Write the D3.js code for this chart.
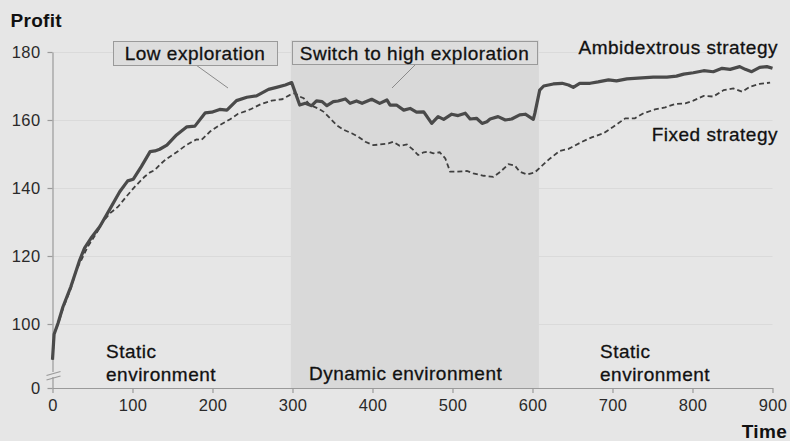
<!DOCTYPE html>
<html>
<head>
<meta charset="utf-8">
<script src="https://cdn.jsdelivr.net/npm/d3@7"></script>
<style>
  html, body { margin: 0; padding: 0; background: #e6e6e6; }
  svg { display: block; font-family: "Liberation Sans", Arial, Helvetica, sans-serif; }
</style>
</head>
<body>
<svg id="chart" width="790" height="441"></svg>
<script>
// Time steps and profit values for each strategy
const ambiTime   = [0,2,7,13,23,34,40,48,59,71,84,94,101,111,122,128,134,143,155,168,178,191,199,209,218,230,243,255,270,280,291,299,
                    309,316,324,330,337,343,351,357,366,372,380,387,399,409,418,422,430,439,447,455,464,466,474,482,489,499,507,516,522,530,537,543,547,557,566,574,584,591,601,603,
                    609,614,626,637,645,651,659,672,682,695,705,718,732,751,768,780,789,801,814,826,837,847,859,866,874,884,893,900];
const ambiProfit = [89.5,97,100.3,105,111,118.8,122.3,125.2,128.6,133.5,138.9,142.1,142.6,146.3,150.7,150.9,151.4,152.6,155.6,158,158.2,162.1,162.3,163.1,162.9,165.7,166.7,167.1,169,169.6,170.3,171,
                    164.4,164.9,164.2,165.6,165.4,164.2,165.4,165.6,166.2,164.9,165.6,164.9,166.1,164.9,165.9,164.4,164.4,162.9,163.4,162.3,162.4,161.7,159,161,160.2,161.7,161.3,162,160.3,160.5,159,159.5,160.3,161,160,160.3,161.5,161.7,160.2,162,
                    168.8,170,170.6,170.8,170.3,169.6,170.8,170.8,171.2,171.8,171.5,172.1,172.3,172.6,172.6,172.9,173.5,173.9,174.5,174.2,175.2,174.9,175.7,174.9,174.2,175.5,175.7,175.2];

const fixedTime   = [0,2,7,13,23,30,36,44,55,63,72,82,92,103,115,122,128,134,142,155,167,180,186,197,209,222,232,247,260,274,287,297,303,
                     309,314,322,332,339,347,355,364,374,382,391,401,409,420,426,434,443,451,457,464,470,476,484,491,497,505,518,526,539,551,559,570,578,584,593,603,
                     612,622,634,645,649,662,674,689,701,716,728,739,753,766,778,791,801,814,826,839,851,862,872,884,897];
const fixedProfit = [89.5,97,100,104.5,110.5,116,118.8,122.7,126.7,130.1,132.6,134.5,137.4,140.4,143.3,144.6,145.3,146.8,148.5,150.5,152.6,154.3,154.1,156.6,158.5,160.2,161.8,163.1,164.6,165.7,166.1,167.4,167.9,
                     166.9,166.4,164.4,163.4,162.4,160.5,158.5,157.1,156.1,155.1,153.6,152.6,152.8,153.1,153.6,152.4,152.8,151.2,149.7,150.5,150.7,150.2,150.5,148.7,144.8,144.8,145,144.3,143.6,143.3,144.6,147,146.6,144.8,144,144.6,
                     146.6,148.7,150.9,151.5,152,153.6,154.9,156.1,158,160.5,160.5,162,163.1,163.7,164.7,164.9,165.7,167.1,166.9,168.8,169.3,168.3,169.8,170.6,171];

const xTicks = [0,100,200,300,400,500,600,700,800,900];
const yTicks = [0,100,120,140,160,180];
const gridValues = [100,120,140,160,180];
const dynamicPeriod = [298, 608];

const svg = d3.select("#chart");
const W = 790, H = 441;

// x: time; y: profit with a broken axis between 0 and the data range
const x = d3.scaleLinear().domain([0, 900]).range([52.5, 772.5]);
const y = d3.scaleLinear().domain([0, 85, 180]).range([388, 375, 52]);

svg.append("rect").attr("width", W).attr("height", H).attr("fill", "#e6e6e6");

// gridlines
svg.append("g").selectAll("line").data(gridValues).join("line")
  .attr("x1", x(0)).attr("x2", x(900))
  .attr("y1", d => y(d) + 0.5).attr("y2", d => y(d) + 0.5)
  .attr("stroke", "#dadada").attr("stroke-width", 1);

// dynamic environment period
svg.append("rect")
  .attr("x", x(dynamicPeriod[0])).attr("width", x(dynamicPeriod[1]) - x(dynamicPeriod[0]))
  .attr("y", y(183.5)).attr("height", y(0) - y(183.5))
  .attr("fill", "#d9d9d9");

// axes
const axisColor = "#9a9a9a";
const gx = svg.append("g").attr("transform", `translate(0,${y(0)})`)
  .call(d3.axisBottom(x).tickValues(xTicks).tickSize(5).tickSizeOuter(0).tickPadding(6));
const gy = svg.append("g").attr("transform", `translate(${x(0)},0)`)
  .call(d3.axisLeft(y).tickValues(yTicks).tickSize(5).tickSizeOuter(0).tickPadding(7));
[gx, gy].forEach(g => {
  g.select(".domain").attr("stroke", axisColor).attr("stroke-width", 1.2);
  g.selectAll(".tick line").attr("stroke", axisColor).attr("stroke-width", 1.2);
  g.selectAll(".tick text").attr("fill", "#2a2a2a")
    .style("font-size", "16.5px").style("letter-spacing", "0.4px")
    .style("font-family", "'Liberation Sans', Arial, sans-serif");
});

// axis break marks
const bx = x(0);
svg.append("rect").attr("x", bx - 2).attr("y", 372).attr("width", 4).attr("height", 5).attr("fill", "#e6e6e6");
[[375.5, 371.5], [380, 376]].forEach(([a, b]) => {
  svg.append("line").attr("x1", bx - 6).attr("y1", a).attr("x2", bx + 8).attr("y2", b)
    .attr("stroke", axisColor).attr("stroke-width", 1.2);
});

// series
const line = d3.line().x(d => x(d[0])).y(d => y(d[1]));
svg.append("path").datum(d3.zip(fixedTime, fixedProfit))
  .attr("d", line).attr("fill", "none")
  .attr("stroke", "#404040").attr("stroke-width", 1.8).attr("stroke-dasharray", "5,3");
svg.append("path").datum(d3.zip(ambiTime, ambiProfit))
  .attr("d", line).attr("fill", "none")
  .attr("stroke", "#4a4a4a").attr("stroke-width", 3.2).attr("stroke-linejoin", "round");

// text helpers
const labelStyle = sel => sel.attr("fill", "#111").style("font-size", "19px")
  .style("letter-spacing", "0.5px").attr("stroke", "#111").attr("stroke-width", 0.3);

function label(txt, tx, ty, anchor) {
  return svg.append("text").attr("x", tx).attr("y", ty).attr("text-anchor", anchor || "start")
    .text(txt).call(labelStyle);
}

// callout boxes
function callout(txt, box, leader) {
  svg.append("line").attr("x1", leader[0]).attr("y1", leader[1]).attr("x2", leader[2]).attr("y2", leader[3])
    .attr("stroke", "#8a8a8a").attr("stroke-width", 1);
  svg.append("rect").attr("x", box[0] + 0.5).attr("y", box[1] + 0.5)
    .attr("width", box[2]).attr("height", box[3])
    .attr("fill", "#dddddd").attr("stroke", "#9a9a9a").attr("stroke-width", 1);
  label(txt, box[0] + box[2] / 2, box[1] + 18.5, "middle");
}
callout("Low exploration", [113, 41, 164, 24], [196, 65, 228, 88]);
callout("Switch to high exploration", [292, 41, 245, 23], [415, 65, 392, 88]);

// series labels
label("Ambidextrous strategy", 778, 54, "end");
label("Fixed strategy", 778, 141, "end");

// environment labels
label("Static", 106, 358);
label("environment", 106, 380.5);
label("Dynamic environment", 309, 379.5);
label("Static", 600, 358);
label("environment", 600, 380.5);

// axis titles
svg.append("text").attr("x", 10.5).attr("y", 26.5).text("Profit")
  .attr("fill", "#111").style("font-size", "19px").style("font-weight", "bold").style("letter-spacing", "0.3px");
svg.append("text").attr("x", 787).attr("y", 438).attr("text-anchor", "end").text("Time")
  .attr("fill", "#111").style("font-size", "19px").style("font-weight", "bold").style("letter-spacing", "0.3px");
</script>
</body>
</html>
